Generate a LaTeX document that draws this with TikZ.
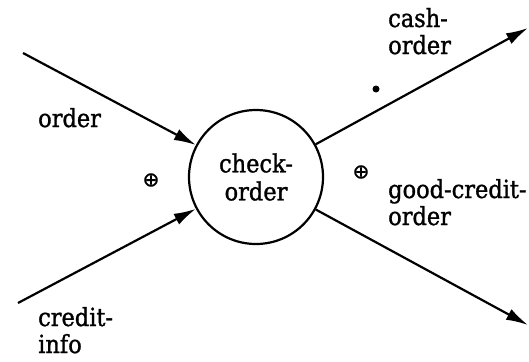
\documentclass[tikz,border=0pt]{standalone}
\usepackage{fontspec}
\setmainfont{DejaVu Serif Condensed}[FakeBold=1.2]
\newfontfamily\symfont{DejaVu Sans}[FakeBold=1.5]
\usetikzlibrary{arrows.meta}
\tikzset{
  flow/.style={line width=2.2pt, -{Latex[length=22pt,width=12pt]}},
  proc/.style={circle, draw, line width=2.2pt, minimum size=134pt, inner sep=0pt, font=\fontsize{25}{28}\selectfont, align=center},
  lbl/.style={anchor=base west, inner sep=0pt, font=\fontsize{25}{27}\selectfont, align=left},
  opsym/.style={inner sep=0pt, font=\symfont\fontsize{20}{20}\selectfont}
}
\begin{document}
\begin{tikzpicture}[x=1pt,y=-1pt]
\useasboundingbox (0,0) rectangle (529,361);
\node[proc] (check) at (256,177) {check-\\order};
\coordinate (orderin) at (23,53);
\coordinate (creditin) at (18,303);
\coordinate (cashout) at (528,28);
\coordinate (goodout) at (528,325);
\draw[flow] (orderin) -- (check);
\draw[flow] (creditin) -- (check);
\draw[flow] (check) -- (cashout);
\draw[flow] (check) -- (goodout);
\node[lbl] (lorder) at (38,127) {order};
\node[lbl] (lcredit) at (38,353) {credit-\\info};
\node[lbl] (lcash) at (388,54) {cash-\\order};
\node[lbl] (lgood) at (388,225) {good-credit-\\order};
\node[opsym] (plusL) at (151,180) {⊕};
\node[opsym] (plusR) at (361,172) {⊕};
\fill (376,89) circle (3.5pt);
\end{tikzpicture}
\end{document}
